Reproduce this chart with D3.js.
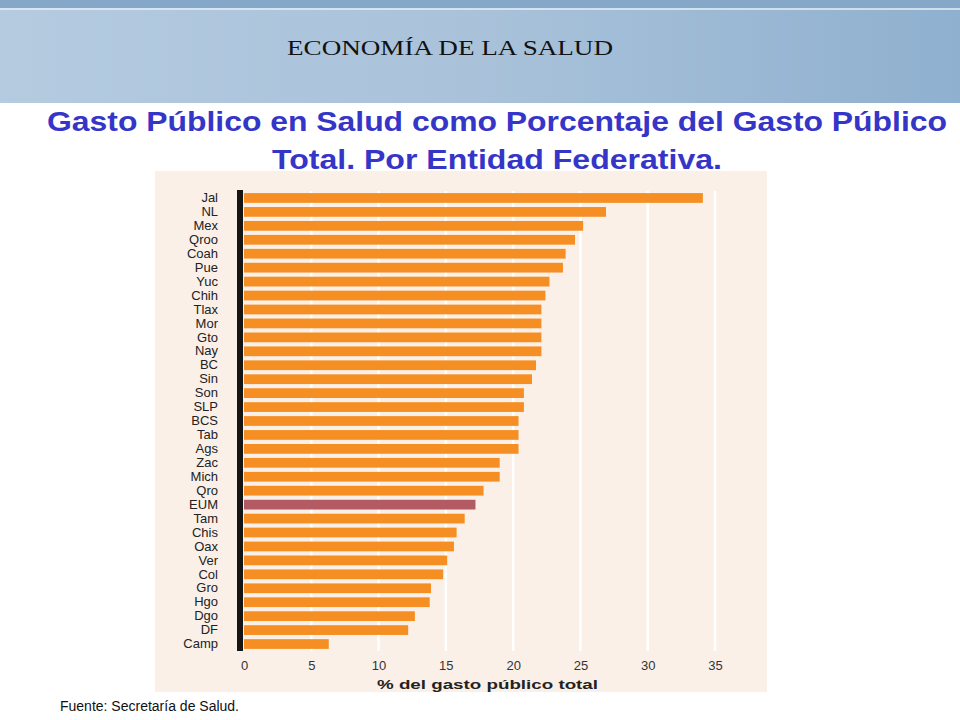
<!DOCTYPE html>
<html>
<head>
<meta charset="utf-8">
<script src="https://cdn.jsdelivr.net/npm/d3@7"></script>
<style>
  body { margin: 0; background: #fff; }
  svg { display: block; }
</style>
</head>
<body>
<svg id="chart" width="960" height="720"></svg>
<script>
const states = ["Jal","NL","Mex","Qroo","Coah","Pue","Yuc","Chih","Tlax","Mor","Gto","Nay","BC","Sin","Son","SLP","BCS","Tab","Ags","Zac","Mich","Qro","EUM","Tam","Chis","Oax","Ver","Col","Gro","Hgo","Dgo","DF","Camp"];
const values = [34.1,26.9,25.2,24.6,23.9,23.7,22.7,22.4,22.1,22.1,22.1,22.1,21.7,21.4,20.8,20.8,20.4,20.4,20.4,19.0,19.0,17.8,17.2,16.4,15.8,15.6,15.1,14.8,13.9,13.8,12.7,12.2,6.3];
const xTicks = [0,5,10,15,20,25,30,35];

const svg = d3.select("#chart");

// header band
const defs = svg.append("defs");
const grad = defs.append("linearGradient").attr("id", "hdr").attr("x1", 0).attr("y1", 0).attr("x2", 1).attr("y2", 0);
grad.append("stop").attr("offset", "0%").attr("stop-color", "#b4cbe0");
grad.append("stop").attr("offset", "50%").attr("stop-color", "#a9c2da");
grad.append("stop").attr("offset", "100%").attr("stop-color", "#8fb0cf");
svg.append("rect").attr("width", 960).attr("height", 103).attr("fill", "url(#hdr)");
svg.append("rect").attr("width", 960).attr("height", 8).attr("fill", "#86a8c8");
svg.append("line").attr("x1", 0).attr("x2", 960).attr("y1", 9).attr("y2", 9).attr("stroke", "#e6eef6").attr("stroke-width", 1.5);

svg.append("text").attr("x", 287).attr("y", 55)
  .attr("textLength", 326).attr("lengthAdjust", "spacingAndGlyphs")
  .style("font-family", "'Liberation Serif', serif")
  .style("font-size", "21px").attr("fill", "#111").text("ECONOMÍA DE LA SALUD");

const title = svg.append("text")
  .style("font-family", "'Liberation Sans', Arial, sans-serif").style("font-weight", "bold")
  .style("font-size", "28px").attr("fill", "#3535c8");
title.append("tspan").attr("x", 47).attr("y", 131).attr("textLength", 900).attr("lengthAdjust", "spacingAndGlyphs")
  .text("Gasto Público en Salud como Porcentaje del Gasto Público");
title.append("tspan").attr("x", 272).attr("y", 169).attr("textLength", 450).attr("lengthAdjust", "spacingAndGlyphs")
  .text("Total. Por Entidad Federativa.");

// chart panel
svg.append("rect").attr("x", 155).attr("y", 171).attr("width", 612).attr("height", 521).attr("fill", "#fbf0e8");

const x = d3.scaleLinear().domain([0, 35]).range([244, 715]);
const y = d3.scaleBand().domain(states).range([191, 651]).paddingInner(0.3).paddingOuter(0.15);

svg.append("g").selectAll("line").data(xTicks.slice(1)).join("line")
  .attr("x1", d => x(d)).attr("x2", d => x(d)).attr("y1", 191).attr("y2", 651)
  .attr("stroke", "#ffffff").attr("stroke-width", 2.5);

svg.append("g").selectAll("rect").data(states).join("rect")
  .attr("x", x(0)).attr("y", d => y(d))
  .attr("width", (d, i) => x(values[i]) - x(0)).attr("height", y.bandwidth())
  .attr("fill", d => d === "EUM" ? "#b35a62" : "#f58f24");

svg.append("rect").attr("x", 237).attr("y", 190).attr("width", 6).attr("height", 461).attr("fill", "#151515");

const yAxis = svg.append("g").attr("transform", "translate(218,0)")
  .call(d3.axisLeft(y).tickSize(0).tickPadding(0));
yAxis.select(".domain").remove();
yAxis.selectAll("text").style("font-family", "'Liberation Sans', Arial, sans-serif").style("font-size", "13px").attr("fill", "#222");

const xAxis = svg.append("g").attr("transform", "translate(0,652)")
  .call(d3.axisBottom(x).tickValues(xTicks).tickSize(0).tickPadding(9));
xAxis.select(".domain").remove();
xAxis.selectAll("text").style("font-family", "'Liberation Sans', Arial, sans-serif").style("font-size", "13px").attr("fill", "#333");

svg.append("text").attr("x", 377).attr("y", 689)
  .attr("textLength", 221).attr("lengthAdjust", "spacingAndGlyphs")
  .style("font-family", "'Liberation Sans', Arial, sans-serif").style("font-weight", "bold")
  .style("font-size", "13px").attr("fill", "#222").text("% del gasto público total");

svg.append("text").attr("x", 60).attr("y", 711)
  .style("font-family", "'Liberation Sans', Arial, sans-serif").style("font-size", "14px")
  .attr("fill", "#111").text("Fuente: Secretaría de Salud.");
</script>
</body>
</html>
